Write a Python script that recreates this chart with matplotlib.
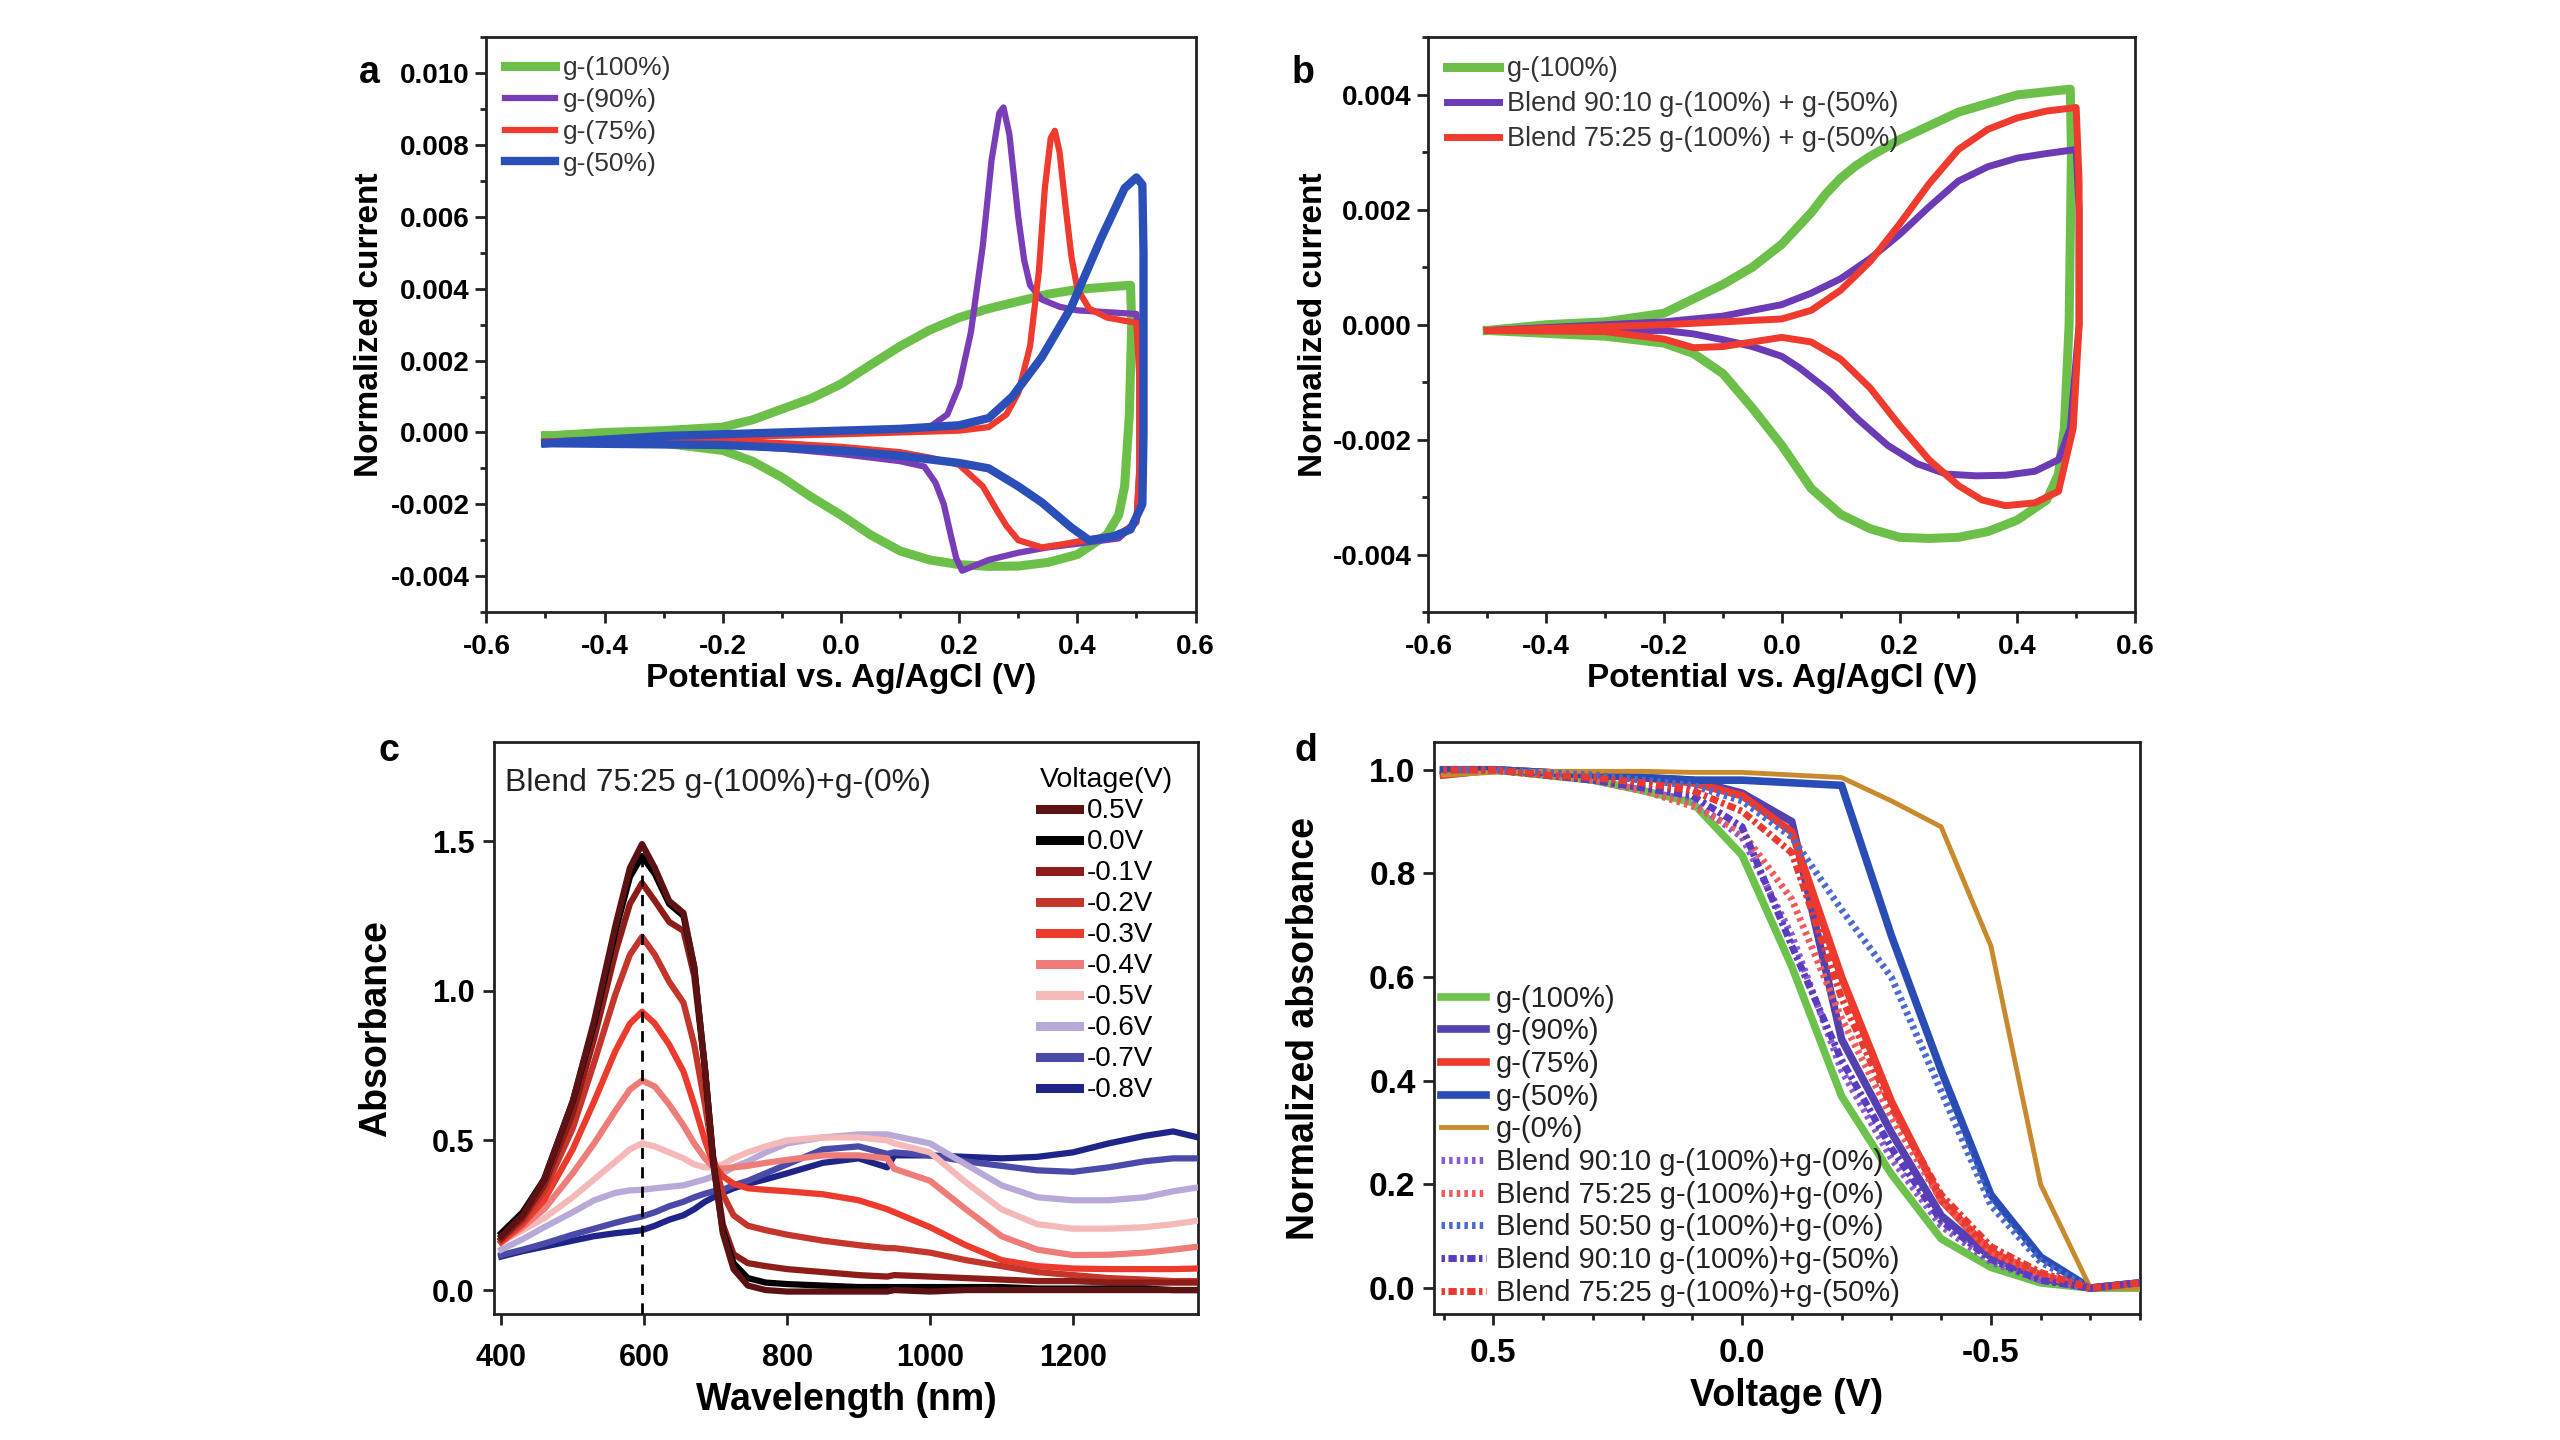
import numpy as np
import matplotlib
matplotlib.use("Agg")
from matplotlib import pyplot as plt
from matplotlib.ticker import MultipleLocator, FormatStrFormatter

plt.rcParams['font.family'] = ['Liberation Sans', 'DejaVu Sans']

# ---------------- panel a : CV of the single polymers (current in 1e-3 units)
a_g100_E = [-0.50, -0.40, -0.30, -0.20, -0.15, -0.10, -0.05, 0.00, 0.05, 0.10, 0.15, 0.20, 0.25, 0.30, 0.35, 0.40, 0.45, 0.49,
            0.492, 0.488, 0.48, 0.47, 0.45,
            0.40, 0.35, 0.30, 0.25, 0.20, 0.15, 0.10, 0.05, 0.00, -0.05, -0.10, -0.15, -0.20, -0.30, -0.40, -0.50]
a_g100_I = [-0.1, 0.0, 0.05, 0.15, 0.35, 0.65, 0.95, 1.35, 1.88, 2.4, 2.85, 3.2, 3.45, 3.65, 3.85, 3.98, 4.05, 4.1,
            3.0, 0.5, -1.5, -2.3, -2.85,
            -3.4, -3.62, -3.72, -3.73, -3.68, -3.55, -3.3, -2.85, -2.3, -1.8, -1.25, -0.8, -0.5, -0.3, -0.2, -0.1]

a_g90_E = [-0.50, -0.30, -0.10, 0.00, 0.10, 0.15, 0.18, 0.20, 0.22, 0.24, 0.255, 0.268, 0.275, 0.285, 0.30, 0.31, 0.32, 0.34, 0.37, 0.40, 0.45, 0.50,
           0.505, 0.505, 0.50, 0.47,
           0.40, 0.35, 0.30, 0.25, 0.22, 0.205, 0.195, 0.185, 0.174, 0.16, 0.141, 0.10, 0.05, 0.00, -0.10, -0.20, -0.30, -0.50]
a_g90_I = [-0.25, -0.15, -0.05, 0.0, 0.05, 0.15, 0.5, 1.3, 2.8, 5.2, 7.6, 8.9, 9.05, 8.3, 6.0, 4.8, 4.1, 3.7, 3.5, 3.4, 3.35, 3.3,
           2.0, -1.0, -2.5, -2.95,
           -3.1, -3.2, -3.35, -3.55, -3.75, -3.85, -3.5, -2.8, -2.0, -1.4, -0.95, -0.8, -0.7, -0.6, -0.45, -0.35, -0.3, -0.25]

a_g75_E = [-0.50, -0.25, 0.00, 0.20, 0.25, 0.28, 0.30, 0.32, 0.335, 0.345, 0.355, 0.362, 0.37, 0.38, 0.39, 0.40, 0.42, 0.45, 0.50,
           0.505, 0.505, 0.50, 0.47,
           0.43, 0.38, 0.34, 0.30, 0.28, 0.265, 0.24, 0.20, 0.15, 0.10, 0.00, -0.10, -0.25, -0.50]
a_g75_I = [-0.25, -0.15, -0.05, 0.05, 0.15, 0.5, 1.1, 2.4, 4.5, 6.8, 8.2, 8.4, 7.8, 6.3, 4.9, 4.0, 3.45, 3.2, 3.05,
           1.5, -1.0, -2.5, -2.85,
           -2.95, -3.1, -3.2, -3.0, -2.6, -2.2, -1.5, -0.9, -0.7, -0.55, -0.4, -0.3, -0.2, -0.25]

a_g50_E = [-0.50, -0.30, -0.10, 0.10, 0.20, 0.25, 0.29, 0.34, 0.39, 0.44, 0.48, 0.50, 0.51,
           0.512, 0.512, 0.51, 0.49,
           0.46, 0.42, 0.39, 0.34, 0.30, 0.25, 0.20, 0.10, 0.00, -0.20, -0.50]
a_g50_I = [-0.3, -0.1, 0.0, 0.1, 0.2, 0.4, 1.0, 2.1, 3.5, 5.4, 6.8, 7.1, 6.9,
           5.0, 0.0, -2.0, -2.7,
           -2.9, -3.0, -2.65, -1.95, -1.5, -1.0, -0.85, -0.65, -0.5, -0.35, -0.3]

# ---------------- panel b : CV of the blends
b_g100_E = [-0.50, -0.40, -0.30, -0.20, -0.10, -0.05, 0.00, 0.05, 0.075, 0.10, 0.125, 0.15, 0.20, 0.30, 0.40, 0.49,
            0.492, 0.488, 0.48, 0.47, 0.45,
            0.40, 0.35, 0.30, 0.25, 0.20, 0.15, 0.10, 0.05, 0.00, -0.05, -0.10, -0.15, -0.20, -0.30, -0.50]
b_g100_I = [-0.1, 0.0, 0.05, 0.2, 0.7, 1.0, 1.4, 1.95, 2.28, 2.55, 2.76, 2.93, 3.22, 3.7, 4.0, 4.1,
            3.0, 0.0, -1.8, -2.6, -3.05,
            -3.4, -3.6, -3.7, -3.72, -3.7, -3.55, -3.3, -2.85, -2.1, -1.45, -0.85, -0.5, -0.32, -0.2, -0.1]

b_9010_E = [-0.50, -0.30, -0.20, -0.10, 0.00, 0.05, 0.10, 0.15, 0.20, 0.25, 0.30, 0.35, 0.40, 0.45, 0.50,
            0.505, 0.505, 0.49, 0.47,
            0.43, 0.38, 0.33, 0.28, 0.23, 0.18, 0.13, 0.08, 0.03, 0.00, -0.05, -0.10, -0.15, -0.20, -0.30, -0.50]
b_9010_I = [-0.1, 0.0, 0.05, 0.15, 0.35, 0.55, 0.8, 1.15, 1.57, 2.05, 2.5, 2.75, 2.9, 2.98, 3.05,
            2.0, 0.0, -1.8, -2.35,
            -2.55, -2.62, -2.63, -2.6, -2.42, -2.1, -1.65, -1.15, -0.75, -0.55, -0.38, -0.26, -0.16, -0.1, -0.1, -0.1]

b_7525_E = [-0.50, -0.20, 0.00, 0.05, 0.10, 0.15, 0.20, 0.25, 0.30, 0.35, 0.40, 0.45, 0.50,
            0.505, 0.505, 0.495, 0.47,
            0.43, 0.38, 0.34, 0.30, 0.25, 0.20, 0.15, 0.10, 0.05, 0.00, -0.05, -0.10, -0.15, -0.20, -0.30, -0.50]
b_7525_I = [-0.1, 0.0, 0.1, 0.25, 0.6, 1.1, 1.75, 2.45, 3.05, 3.4, 3.6, 3.72, 3.78,
            2.5, 0.0, -1.8, -2.9,
            -3.1, -3.15, -3.05, -2.8, -2.35, -1.75, -1.1, -0.6, -0.3, -0.22, -0.3, -0.38, -0.4, -0.25, -0.12, -0.1]

# ---------------- panel c : spectra of the blend at different voltages
wavelength = [400, 430, 460, 500, 530, 560, 580, 597, 615, 635, 655, 670, 685, 697, 710, 725, 745, 770,
              800, 850, 900, 940, 950, 1000, 1050, 1100, 1150, 1200, 1250, 1300, 1340, 1375]
voltages = ['0.5V', '0.0V', '-0.1V', '-0.2V', '-0.3V', '-0.4V', '-0.5V', '-0.6V', '-0.7V', '-0.8V']
spec_p05 = [0.18, 0.25, 0.37, 0.63, 0.90, 1.22, 1.41, 1.49, 1.41, 1.30, 1.26, 1.08, 0.74, 0.42, 0.19, 0.07, 0.015, 0.0,
            -0.005, -0.005, -0.005, -0.005, 0.0, -0.005, 0.0, 0.0, 0.0, 0.0, 0.0, 0.0, 0.0, 0.0]
spec_000 = [0.19, 0.26, 0.37, 0.63, 0.89, 1.20, 1.38, 1.45, 1.39, 1.29, 1.25, 1.08, 0.74, 0.42, 0.20, 0.09, 0.04, 0.025,
            0.02, 0.015, 0.01, 0.01, 0.01, 0.01, 0.01, 0.01, 0.005, 0.005, 0.005, 0.005, 0.0, 0.0]
spec_m01 = [0.17, 0.24, 0.35, 0.59, 0.84, 1.13, 1.29, 1.36, 1.30, 1.23, 1.20, 1.05, 0.74, 0.43, 0.22, 0.12, 0.09, 0.08,
            0.07, 0.06, 0.05, 0.045, 0.05, 0.045, 0.04, 0.035, 0.03, 0.03, 0.025, 0.025, 0.025, 0.025]
spec_m02 = [0.17, 0.23, 0.33, 0.54, 0.76, 0.99, 1.12, 1.18, 1.12, 1.03, 0.96, 0.82, 0.62, 0.44, 0.32, 0.25, 0.215, 0.2,
            0.185, 0.165, 0.15, 0.14, 0.14, 0.125, 0.1, 0.08, 0.06, 0.05, 0.04, 0.035, 0.03, 0.03]
spec_m03 = [0.16, 0.22, 0.30, 0.47, 0.63, 0.80, 0.89, 0.93, 0.89, 0.82, 0.73, 0.62, 0.50, 0.42, 0.38, 0.355, 0.34, 0.335,
            0.33, 0.32, 0.30, 0.27, 0.26, 0.21, 0.15, 0.10, 0.08, 0.072, 0.07, 0.07, 0.07, 0.072]
spec_m04 = [0.16, 0.21, 0.27, 0.39, 0.49, 0.60, 0.67, 0.70, 0.68, 0.62, 0.55, 0.49, 0.44, 0.41, 0.405, 0.41, 0.415, 0.425,
            0.435, 0.45, 0.45, 0.44, 0.405, 0.365, 0.27, 0.18, 0.135, 0.117, 0.118, 0.125, 0.135, 0.145]
spec_m05 = [0.16, 0.20, 0.24, 0.31, 0.37, 0.43, 0.47, 0.49, 0.48, 0.46, 0.44, 0.42, 0.41, 0.41, 0.42, 0.44, 0.46, 0.48,
            0.50, 0.51, 0.51, 0.50, 0.49, 0.46, 0.36, 0.27, 0.22, 0.205, 0.205, 0.21, 0.22, 0.232]
spec_m06 = [0.135, 0.17, 0.21, 0.26, 0.30, 0.325, 0.333, 0.335, 0.34, 0.345, 0.35, 0.36, 0.37, 0.38, 0.39, 0.41, 0.43, 0.46,
            0.49, 0.51, 0.52, 0.52, 0.515, 0.49, 0.42, 0.35, 0.31, 0.30, 0.30, 0.31, 0.33, 0.343]
spec_m07 = [0.117, 0.135, 0.155, 0.185, 0.205, 0.225, 0.237, 0.246, 0.26, 0.28, 0.295, 0.31, 0.322, 0.33, 0.335, 0.35, 0.365, 0.39,
            0.42, 0.47, 0.48, 0.455, 0.46, 0.45, 0.43, 0.415, 0.40, 0.395, 0.41, 0.43, 0.44, 0.44]
spec_m08 = [0.112, 0.13, 0.145, 0.165, 0.18, 0.19, 0.195, 0.20, 0.215, 0.235, 0.25, 0.27, 0.295, 0.31, 0.325, 0.34, 0.355, 0.37,
            0.39, 0.425, 0.44, 0.41, 0.45, 0.45, 0.445, 0.44, 0.445, 0.46, 0.49, 0.515, 0.53, 0.51]
spectra = [spec_p05, spec_000, spec_m01, spec_m02, spec_m03, spec_m04, spec_m05, spec_m06, spec_m07, spec_m08]
spec_colors = ['#5c1212', '#000000', '#8e1c18', '#c4352b', '#ec3b2d', '#ee7c78', '#f6b9b9', '#b9a9d9', '#4b4aa8', '#1f2488']
peak_nm = 597

# ---------------- panel d : normalized absorbance vs voltage
volt = [0.6, 0.5, 0.4, 0.3, 0.2, 0.1, 0.0, -0.1, -0.2, -0.3, -0.4, -0.5, -0.6, -0.7, -0.8]
d_g100 = [0.99, 1.0, 0.99, 0.98, 0.96, 0.937, 0.835, 0.62, 0.37, 0.22, 0.095, 0.04, 0.01, 0.0, 0.0]
d_g90 = [1.0, 1.0, 0.995, 0.99, 0.985, 0.98, 0.955, 0.90, 0.48, 0.30, 0.14, 0.06, 0.02, 0.0, 0.01]
d_g75 = [0.99, 1.0, 0.995, 0.99, 0.985, 0.975, 0.95, 0.88, 0.60, 0.36, 0.17, 0.07, 0.025, 0.0, 0.01]
d_g50 = [1.0, 1.0, 0.995, 0.99, 0.985, 0.98, 0.98, 0.975, 0.97, 0.68, 0.42, 0.18, 0.06, 0.0, 0.01]
d_g0 = [0.99, 0.995, 0.997, 0.997, 0.997, 0.995, 0.995, 0.99, 0.985, 0.94, 0.89, 0.66, 0.20, 0.0, 0.0]
d_b9010_0 = [1.0, 1.0, 0.99, 0.98, 0.96, 0.94, 0.87, 0.68, 0.42, 0.25, 0.12, 0.05, 0.015, 0.0, 0.01]
d_b7525_0 = [1.0, 1.0, 0.99, 0.98, 0.96, 0.93, 0.88, 0.75, 0.52, 0.33, 0.17, 0.07, 0.025, 0.0, 0.01]
d_b5050_0 = [1.0, 1.0, 0.995, 0.99, 0.98, 0.97, 0.94, 0.87, 0.73, 0.60, 0.38, 0.16, 0.05, 0.0, 0.01]
d_b9010_50 = [1.0, 1.0, 0.99, 0.98, 0.965, 0.95, 0.89, 0.66, 0.44, 0.27, 0.13, 0.055, 0.015, 0.0, 0.01]
d_b7525_50 = [1.0, 1.0, 0.99, 0.985, 0.975, 0.96, 0.92, 0.84, 0.56, 0.35, 0.18, 0.08, 0.03, 0.0, 0.01]

fig = plt.figure(figsize=(25.6, 14.4), dpi=100)
ax_a = fig.add_axes([0.190, 0.575, 0.277, 0.399])
ax_b = fig.add_axes([0.558, 0.575, 0.276, 0.399])
ax_c = fig.add_axes([0.193, 0.0875, 0.275, 0.397])
ax_d = fig.add_axes([0.560, 0.0875, 0.276, 0.397])

green, purple, red, blue = '#6cc04a', '#7a3db8', '#ee3b2e', '#2b4fb8'
bold = dict(fontweight='bold')


def style_axes(ax, tick_size, xpad, ypad, bold_ticks=True):
    for s in ax.spines.values():
        s.set_linewidth(2)
        s.set_color('#222222')
    ax.tick_params(which='major', direction='out', length=8, width=2, labelsize=tick_size, color='#222222')
    ax.tick_params(which='minor', direction='out', length=4, width=2, color='#222222')
    ax.tick_params(axis='x', pad=xpad)
    ax.tick_params(axis='y', pad=ypad)
    if bold_ticks:
        for lab in ax.get_xticklabels() + ax.get_yticklabels():
            lab.set_fontweight('bold')


# panel a
for E, I, c, lab, lw in [(a_g100_E, a_g100_I, green, 'g-(100%)', 6.5),
                         (a_g90_E, a_g90_I, purple, 'g-(90%)', 4.5),
                         (a_g75_E, a_g75_I, red, 'g-(75%)', 4.5),
                         (a_g50_E, a_g50_I, blue, 'g-(50%)', 6)]:
    ax_a.plot(E, np.array(I) * 1e-3, color=c, lw=lw, label=lab, solid_joinstyle='round')
ax_a.set_xlim(-0.6, 0.6)
ax_a.set_ylim(-0.005, 0.011)
ax_a.xaxis.set_major_locator(MultipleLocator(0.2))
ax_a.xaxis.set_minor_locator(MultipleLocator(0.1))
ax_a.set_yticks([-0.004, -0.002, 0.0, 0.002, 0.004, 0.006, 0.008, 0.010])
ax_a.yaxis.set_minor_locator(MultipleLocator(0.001))
ax_a.xaxis.set_major_formatter(FormatStrFormatter('%.1f'))
ax_a.yaxis.set_major_formatter(FormatStrFormatter('%.3f'))
style_axes(ax_a, 20, 8, 4)
ax_a.set_xlabel('Potential vs. Ag/AgCl (V)', fontsize=24, labelpad=2, **bold)
ax_a.set_ylabel('Normalized current', fontsize=24, labelpad=4, **bold)
ax_a.legend(loc='upper left', frameon=False, fontsize=19, handlelength=1.9, handletextpad=0.3,
            labelspacing=0.3, borderaxespad=0.3, labelcolor='#333333')

# panel b
for E, I, c, lab, lw in [(b_g100_E, b_g100_I, green, 'g-(100%)', 6.5),
                         (b_9010_E, b_9010_I, '#6a3bb5', 'Blend 90:10 g-(100%) + g-(50%)', 5),
                         (b_7525_E, b_7525_I, red, 'Blend 75:25 g-(100%) + g-(50%)', 5)]:
    ax_b.plot(E, np.array(I) * 1e-3, color=c, lw=lw, label=lab, solid_joinstyle='round')
ax_b.set_xlim(-0.6, 0.6)
ax_b.set_ylim(-0.005, 0.005)
ax_b.xaxis.set_major_locator(MultipleLocator(0.2))
ax_b.xaxis.set_minor_locator(MultipleLocator(0.1))
ax_b.set_yticks([-0.004, -0.002, 0.0, 0.002, 0.004])
ax_b.yaxis.set_minor_locator(MultipleLocator(0.001))
ax_b.xaxis.set_major_formatter(FormatStrFormatter('%.1f'))
ax_b.yaxis.set_major_formatter(FormatStrFormatter('%.3f'))
style_axes(ax_b, 20, 8, 4)
ax_b.set_xlabel('Potential vs. Ag/AgCl (V)', fontsize=24, labelpad=2, **bold)
ax_b.set_ylabel('Normalized current', fontsize=24, labelpad=3, **bold)
ax_b.legend(loc='upper left', frameon=False, fontsize=19.5, handlelength=1.9, handletextpad=0.3,
            labelspacing=0.33, borderaxespad=0.3, labelcolor='#333333')

# panel c
for k in range(len(voltages) - 1, -1, -1):
    ax_c.plot(wavelength, spectra[k], color=spec_colors[k], lw=4.5, label=voltages[k], zorder=3 + (10 - k) * 0.1)
ax_c.axvline(peak_nm, ymin=0, ymax=(1.46 + 0.08) / 1.91, color='black', lw=2, ls=(0, (4, 3)), zorder=5)
ax_c.set_xlim(390, 1375)
ax_c.set_ylim(-0.08, 1.83)
ax_c.set_xticks([400, 600, 800, 1000, 1200])
ax_c.set_yticks([0.0, 0.5, 1.0, 1.5])
ax_c.yaxis.set_major_formatter(FormatStrFormatter('%.1f'))
style_axes(ax_c, 22, 13, 6)
ax_c.set_xlabel('Wavelength (nm)', fontsize=27, labelpad=6, **bold)
ax_c.set_ylabel('Absorbance', fontsize=27, labelpad=27, **bold)
ax_c.text(0.015, 0.955, 'Blend 75:25 g-(100%)+g-(0%)', transform=ax_c.transAxes, fontsize=23,
          ha='left', va='top', color='#222222')
h, l = ax_c.get_legend_handles_labels()
order = list(range(len(h)))[::-1]
leg_c = ax_c.legend([h[i] for i in order], [l[i] for i in order], title='Voltage(V)', loc='upper right',
                    frameon=False, fontsize=20, title_fontsize=20.5, handlelength=1.4, handletextpad=0.3,
                    labelspacing=0.18, borderaxespad=0.6, borderpad=0.3, alignment='left')
for line in leg_c.get_lines():
    line.set_linewidth(6.5)

# panel d
solid = [(d_g100, '#6cc24a', 'g-(100%)', 5.5), (d_g90, '#5540b0', 'g-(90%)', 5.5), (d_g75, '#ee3a2c', 'g-(75%)', 5.5),
         (d_g50, '#2a4cb5', 'g-(50%)', 5.5), (d_g0, '#c98a2e', 'g-(0%)', 3.5)]
dotted = [(d_b9010_0, '#8a5ad0', 'Blend 90:10 g-(100%)+g-(0%)', (0, (0.5, 0.6))),
          (d_b7525_0, '#f05a5a', 'Blend 75:25 g-(100%)+g-(0%)', (0, (0.5, 0.6))),
          (d_b5050_0, '#4a6ad0', 'Blend 50:50 g-(100%)+g-(0%)', (0, (0.5, 0.6))),
          (d_b9010_50, '#5a3cc0', 'Blend 90:10 g-(100%)+g-(50%)', (0, (0.5, 0.5, 1.2, 0.5))),
          (d_b7525_50, '#e83a30', 'Blend 75:25 g-(100%)+g-(50%)', (0, (0.5, 0.5, 1.2, 0.5)))]
for y, c, lab, lw in solid:
    ax_d.plot(volt, y, color=c, lw=lw, label=lab, zorder=3)
for y, c, lab, ls in dotted:
    ax_d.plot(volt, y, color=c, lw=5, ls=ls, label=lab, zorder=4)
ax_d.set_xlim(0.62, -0.8)
ax_d.set_ylim(-0.05, 1.053)
ax_d.set_xticks([0.5, 0.0, -0.5])
ax_d.xaxis.set_minor_locator(MultipleLocator(0.1))
ax_d.set_yticks([0.0, 0.2, 0.4, 0.6, 0.8, 1.0])
ax_d.xaxis.set_major_formatter(FormatStrFormatter('%.1f'))
ax_d.yaxis.set_major_formatter(FormatStrFormatter('%.1f'))
style_axes(ax_d, 24, 9, 5)
ax_d.set_xlabel('Voltage (V)', fontsize=27, labelpad=7, **bold)
ax_d.set_ylabel('Normalized absorbance', fontsize=27, labelpad=34, **bold)
ax_d.legend(loc='lower left', frameon=False, fontsize=21, handlelength=1.55, handletextpad=0.33,
            labelspacing=0.16, borderaxespad=0.1, borderpad=0.15, labelcolor='#222222')

# panel letters
fig.text(369 / 2560, 1 - 73 / 1440, 'a', fontsize=27, fontweight='bold', ha='center', va='center')
fig.text(1303 / 2560, 1 - 73 / 1440, 'b', fontsize=27, fontweight='bold', ha='center', va='center')
fig.text(389 / 2560, 1 - 751 / 1440, 'c', fontsize=27, fontweight='bold', ha='center', va='center')
fig.text(1306 / 2560, 1 - 751 / 1440, 'd', fontsize=27, fontweight='bold', ha='center', va='center')

fig.savefig('out.png', dpi=100, facecolor='white')
